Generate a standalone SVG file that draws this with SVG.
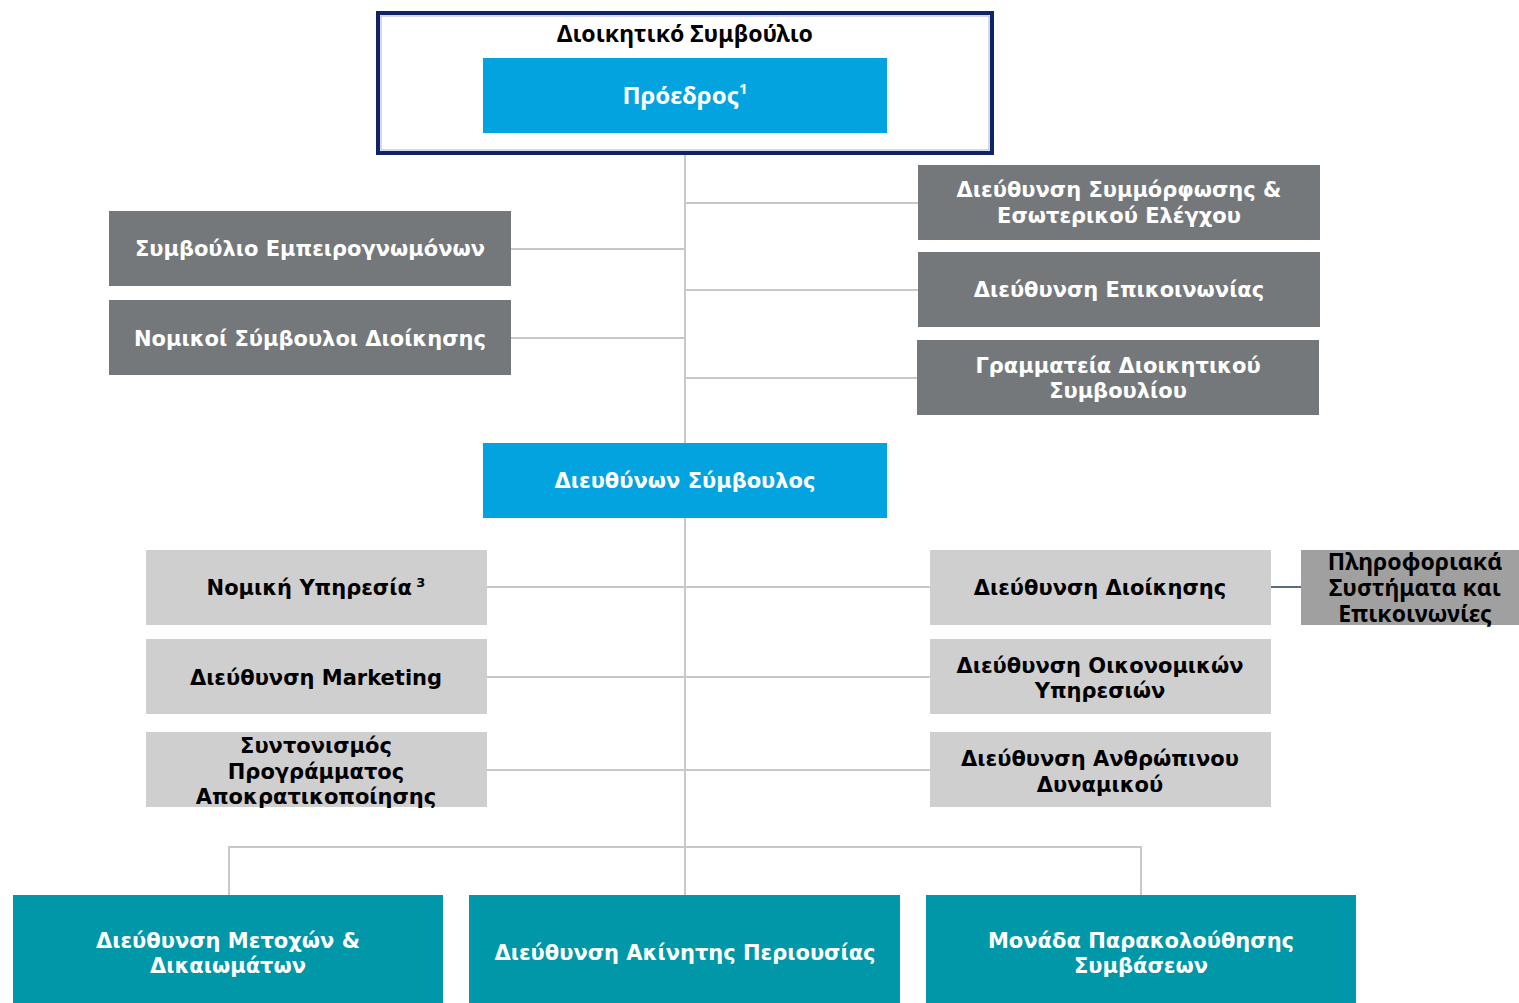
<svg xmlns="http://www.w3.org/2000/svg" width="1519" height="1003" viewBox="0 0 1519 1003">
<style>
.v{font-family:"DejaVu Sans",Verdana,sans-serif;font-weight:700;font-size:21px;text-anchor:middle}
.a{font-family:"Noto Sans","Liberation Sans",Arial,sans-serif;font-weight:700;text-anchor:middle}
.w{fill:#ffffff}.k{fill:#000000}
.blue{fill:#03a3e0}.dg{fill:#75787b}.lg{fill:#d0cfd0}.mg{fill:#a0a0a0}.teal{fill:#0097a8}
.c{stroke:#c8c8c8;stroke-width:2;fill:none}
</style>
<rect width="1519" height="1003" fill="#ffffff"/>
<g id="connectors">
<path class="c" d="M685 153V847M685 203H918M685 290H918M685 378H917M511 249H685M511 338H685M487 587H930M487 677H930M487 770H930M229 895V847H1141V895M685 847V895"/>
<path d="M1271 587H1301" stroke="#5b6b80" stroke-width="2"/>
</g>
<g id="board">
<rect x="378" y="13" width="614" height="140" fill="#ffffff" stroke="#0e2466" stroke-width="4"/>
<rect x="381" y="16" width="608" height="134" fill="none" stroke="#a9b2d2" stroke-width="1"/>
<text class="a k" x="685" y="42" font-size="23">Διοικητικό Συμβούλιο</text>
</g>
<g id="president">
<rect class="blue" x="483" y="58" width="404" height="75"/>
<text class="a w" x="685" y="104" font-size="24">Πρόεδρος<tspan font-size="15" dy="-10">1</tspan></text>
</g>
<g id="compliance">
<rect class="dg" x="918" y="165" width="402" height="75"/>
<text class="v w" x="1119" y="197">Διεύθυνση Συμμόρφωσης &amp;</text>
<text class="v w" x="1119" y="223">Εσωτερικού Ελέγχου</text>
</g>
<g id="communication">
<rect class="dg" x="918" y="252" width="402" height="75"/>
<text class="v w" x="1119" y="297">Διεύθυνση Επικοινωνίας</text>
</g>
<g id="secretariat">
<rect class="dg" x="917" y="340" width="402" height="75"/>
<text class="v w" x="1118" y="373">Γραμματεία Διοικητικού</text>
<text class="v w" x="1118" y="398">Συμβουλίου</text>
</g>
<g id="experts">
<rect class="dg" x="109" y="211" width="402" height="75"/>
<text class="v w" x="310" y="256">Συμβούλιο Εμπειρογνωμόνων</text>
</g>
<g id="legal-advisors">
<rect class="dg" x="109" y="300" width="402" height="75"/>
<text class="v w" x="310" y="346">Νομικοί Σύμβουλοι Διοίκησης</text>
</g>
<g id="ceo">
<rect class="blue" x="483" y="443" width="404" height="75"/>
<text class="v w" x="685" y="488">Διευθύνων Σύμβουλος</text>
</g>
<g id="legal-service">
<rect class="lg" x="146" y="550" width="341" height="75"/>
<text class="v k" x="316" y="595">Νομική Υπηρεσία<tspan font-size="13" dy="-8"> 3</tspan></text>
</g>
<g id="marketing">
<rect class="lg" x="146" y="639" width="341" height="75"/>
<text class="v k" x="316" y="685">Διεύθυνση Marketing</text>
</g>
<g id="privatization">
<rect class="lg" x="146" y="732" width="341" height="75"/>
<text class="v k" x="316" y="753">Συντονισμός</text>
<text class="v k" x="316" y="779">Προγράμματος</text>
<text class="v k" x="316" y="804">Αποκρατικοποίησης</text>
</g>
<g id="administration">
<rect class="lg" x="930" y="550" width="341" height="75"/>
<text class="v k" x="1100" y="595">Διεύθυνση Διοίκησης</text>
</g>
<g id="it">
<rect class="mg" x="1301" y="550" width="218" height="75"/>
<text class="a k" x="1415" y="570" font-size="23">Πληροφοριακά</text>
<text class="a k" x="1415" y="596" font-size="23">Συστήματα και</text>
<text class="a k" x="1415" y="622" font-size="23">Επικοινωνίες</text>
</g>
<g id="finance">
<rect class="lg" x="930" y="639" width="341" height="75"/>
<text class="v k" x="1100" y="673">Διεύθυνση Οικονομικών</text>
<text class="v k" x="1100" y="698">Υπηρεσιών</text>
</g>
<g id="hr">
<rect class="lg" x="930" y="732" width="341" height="75"/>
<text class="v k" x="1100" y="766">Διεύθυνση Ανθρώπινου</text>
<text class="v k" x="1100" y="792">Δυναμικού</text>
</g>
<g id="shares">
<rect class="teal" x="13" y="895" width="430" height="108"/>
<text class="v w" x="228" y="948">Διεύθυνση Μετοχών &amp;</text>
<text class="v w" x="228" y="973">Δικαιωμάτων</text>
</g>
<g id="real-estate">
<rect class="teal" x="469" y="895" width="431" height="108"/>
<text class="v w" x="685" y="960">Διεύθυνση Ακίνητης Περιουσίας</text>
</g>
<g id="contracts">
<rect class="teal" x="926" y="895" width="430" height="108"/>
<text class="v w" x="1141" y="948">Μονάδα Παρακολούθησης</text>
<text class="v w" x="1141" y="973">Συμβάσεων</text>
</g>
</svg>
